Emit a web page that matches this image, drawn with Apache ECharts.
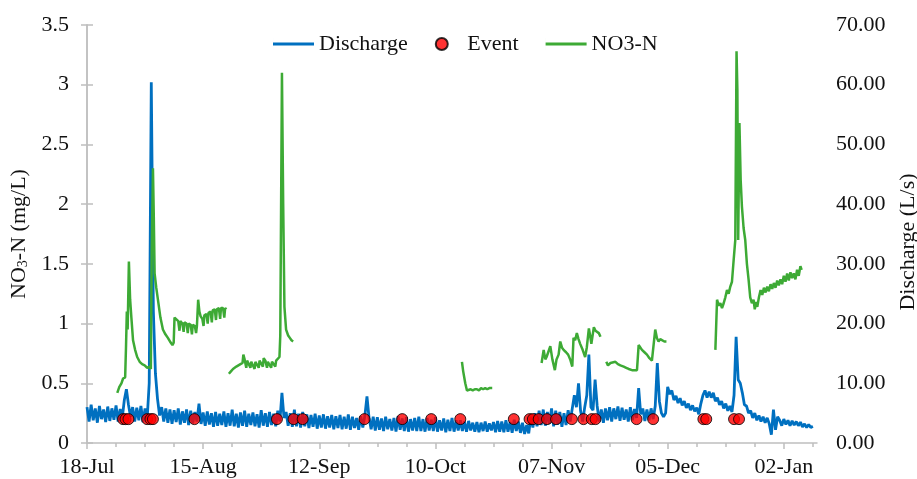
<!DOCTYPE html>
<html>
<head>
<meta charset="utf-8">
<script src="https://cdn.jsdelivr.net/npm/echarts@6/dist/echarts.min.js"></script>
<style>html,body{margin:0;padding:0;background:#fff;}#c{width:917px;height:479px;}</style>
</head>
<body>
<div id="c"></div>
<script>
// x positions are days since 18-Jul
const tickDays = [0, 28, 56, 84, 112, 140, 168];
const tickLabels = ['18-Jul', '15-Aug', '12-Sep', '10-Oct', '07-Nov', '05-Dec', '02-Jan'];
const minorTickDays = [7,14,21,35,42,49,63,70,77,91,98,105,119,126,133,147,154,161,175];

// Discharge (L/s), one reading every half day starting at 18-Jul
const dischargeStep = 0.5;
const discharge = [
  6.0,3.6,6.4,3.8,5.8,3.4,6.2,4.0,5.6,3.5,6.1,3.7,5.8,3.9,6.3,3.6,5.7,4.2,7.2,9.0,
  6.4,4.4,6.0,3.6,5.9,3.8,6.2,3.5,5.8,4.0,10.0,60.4,22.0,11.6,7.4,4.6,6.0,3.6,5.8,3.4,
  5.6,3.2,5.5,3.5,5.8,3.1,5.3,3.4,5.6,3.0,5.4,3.3,5.2,3.6,6.6,3.2,5.1,2.9,5.3,3.1,
  5.0,2.7,5.2,2.9,4.9,3.0,5.3,2.7,5.0,2.9,5.6,2.8,4.9,2.6,5.1,2.9,5.4,2.7,4.9,3.0,
  5.1,2.8,4.8,2.6,5.5,2.9,5.0,2.7,5.2,3.0,4.9,2.8,5.4,3.6,8.4,4.2,5.2,2.9,5.0,2.7,
  5.6,2.8,4.9,2.6,5.2,2.8,4.8,2.5,4.7,2.7,4.9,2.4,4.6,2.6,4.8,2.4,4.5,2.6,4.7,2.3,
  4.5,2.5,4.7,2.3,4.4,2.4,4.8,2.2,4.4,2.5,4.2,2.2,4.5,2.6,4.6,7.8,4.2,2.3,4.4,2.1,
  4.3,2.2,4.1,2.0,4.4,2.3,4.0,2.1,4.2,1.9,4.5,2.2,4.1,2.0,4.3,1.9,4.0,2.1,4.2,2.0,
  4.4,2.0,4.0,1.9,4.2,2.1,3.9,2.0,4.3,1.9,3.8,2.1,4.1,1.8,3.9,2.0,4.2,1.9,3.8,2.1,
  3.8,2.0,3.6,1.9,3.7,2.1,3.4,1.9,3.5,1.8,3.4,2.0,3.6,1.9,3.3,2.1,3.5,1.8,3.7,1.9,
  3.6,1.8,3.8,1.9,3.5,1.7,3.9,2.0,3.6,1.7,3.4,1.5,3.0,1.6,4.4,2.6,5.0,2.8,5.4,3.0,
  5.6,2.9,5.2,3.2,5.8,2.8,5.4,3.1,5.2,2.7,5.0,3.0,5.5,3.6,5.8,8.0,6.0,10.0,5.4,3.6,
  6.0,8.0,14.8,6.0,5.5,10.6,6.2,3.6,5.6,3.4,5.8,3.8,6.0,3.6,5.8,4.0,6.1,3.7,5.9,3.9,
  5.6,3.6,6.0,3.8,5.7,4.2,9.2,4.8,5.8,3.7,5.6,3.8,5.8,4.0,6.2,13.4,7.0,5.0,4.4,5.0,
  9.4,8.2,8.8,7.2,7.9,6.7,7.5,6.3,7.0,5.9,6.6,5.5,6.3,5.3,5.9,4.8,6.6,8.0,8.8,7.6,
  8.6,7.6,8.4,7.0,7.6,6.4,7.0,5.8,6.6,5.4,6.2,5.2,8.0,17.8,10.6,10.0,8.4,6.4,6.2,5.0,
  5.4,4.2,5.0,3.8,4.6,3.6,4.4,3.4,4.2,3.2,1.4,5.6,2.2,4.4,3.8,2.9,4.0,3.1,3.8,2.9,
  3.7,3.0,3.6,2.9,3.5,2.7,3.2,2.6,3.1,2.6,2.8
];

// NO3-N (mg/L): [day, value] readings, one list per logging period
const no3Seg1 = [[7.3,0.42],[7.8,0.47],[8.3,0.50],[8.7,0.54],[9.2,0.55],[9.4,0.80],[9.6,1.10],[9.8,0.95],[10.1,1.52],[10.4,1.20],[10.7,1.05],[11.1,0.86],[11.6,0.78],[12.1,0.72],[12.7,0.68],[13.3,0.66],[13.9,0.65],[14.5,0.63],[15.1,0.64],[15.4,0.62],[15.6,1.60],[15.9,2.30],[16.1,1.90],[16.3,1.42],[16.7,1.30],[17.1,1.20],[17.7,1.05],[18.3,0.95],[18.9,0.91],[19.5,0.88],[20.0,0.85],[20.6,0.82],[20.9,0.84],[21.1,1.05],[21.5,1.04],[22.0,1.02],[22.3,0.94],[22.5,1.02],[23.0,1.00],[23.3,0.93],[23.5,1.01],[24.0,1.00],[24.3,0.92],[24.5,1.00],[25.0,0.99],[25.3,0.91],[25.5,0.99],[26.0,0.98],[26.3,0.92],[26.5,0.98],[26.8,1.20],[27.1,1.10],[27.4,1.06],[27.8,1.04],[28.1,0.98],[28.3,1.07],[28.8,1.08],[29.1,1.00],[29.3,1.09],[29.8,1.10],[30.1,1.01],[30.3,1.11],[30.8,1.12],[31.1,1.03],[31.3,1.12],[31.8,1.13],[32.1,1.04],[32.3,1.13],[32.8,1.13],[33.1,1.05],[33.3,1.13],[33.6,1.12]];
const no3Seg2 = [[34.2,0.58],[34.7,0.60],[35.2,0.62],[35.6,0.61],[36.0,0.64],[36.5,0.65],[37.0,0.66],[37.5,0.67],[37.7,0.74],[38.0,0.70],[38.4,0.63],[38.6,0.69],[39.0,0.68],[39.4,0.63],[39.6,0.68],[40.0,0.68],[40.4,0.62],[40.6,0.68],[41.0,0.68],[41.4,0.63],[41.6,0.69],[42.0,0.70],[42.4,0.64],[42.6,0.71],[43.0,0.69],[43.4,0.63],[43.6,0.68],[44.0,0.68],[44.4,0.63],[44.6,0.68],[45.0,0.68],[45.4,0.64],[45.6,0.69],[46.0,0.70],[46.4,0.72],[46.6,0.90],[47.0,3.10],[47.3,2.00],[47.6,1.14],[48.0,0.95],[48.5,0.90],[48.9,0.88],[49.3,0.86],[49.7,0.85]];
const no3Seg3 = [[90.4,0.68],[90.7,0.60],[91.2,0.50],[91.6,0.44],[92.0,0.43],[92.5,0.45],[93.0,0.44],[93.5,0.45],[94.0,0.45],[94.5,0.44],[95.0,0.46],[95.5,0.45],[96.0,0.46],[96.5,0.45],[97.0,0.46],[97.7,0.46]];
const no3Seg4 = [[109.6,0.67],[110.1,0.78],[110.5,0.70],[110.8,0.72],[111.2,0.76],[111.7,0.81],[112.2,0.70],[112.8,0.61],[113.2,0.70],[113.7,0.74],[114.1,0.85],[114.5,0.80],[114.9,0.78],[115.5,0.76],[116.0,0.74],[116.5,0.70],[117.0,0.64],[117.3,0.88],[117.7,0.86],[118.1,0.92],[118.5,0.87],[118.9,0.83],[119.5,0.78],[120.1,0.72],[120.5,0.80],[121.0,0.96],[121.3,0.90],[121.6,0.83],[122.2,0.97],[122.6,0.94],[123.0,0.95],[123.4,0.92],[123.8,0.89]];
const no3Seg5 = [[125.2,0.68],[125.6,0.65],[126.2,0.67],[127.4,0.68],[128.0,0.66],[128.6,0.65],[129.4,0.64],[130.0,0.63],[130.6,0.62],[131.4,0.61],[132.0,0.61],[132.6,0.61],[133.0,0.82],[133.4,0.80],[133.8,0.78],[134.4,0.76],[135.0,0.74],[135.6,0.71],[136.2,0.69],[136.6,0.68],[137.0,0.95],[137.4,0.88],[137.8,0.85],[138.2,0.87],[138.6,0.86],[139.2,0.85],[139.7,0.85]];
const no3Seg6 = [[151.5,0.78],[151.9,1.20],[152.3,1.15],[152.7,1.17],[153.1,1.13],[153.5,1.17],[153.9,1.22],[154.3,1.28],[154.7,1.25],[155.1,1.31],[155.5,1.35],[155.9,1.53],[156.3,1.70],[156.6,3.28],[156.8,2.96],[157.0,1.70],[157.3,2.68],[157.6,2.20],[157.9,1.98],[158.3,1.80],[158.7,1.70],[159.1,1.50],[159.5,1.37],[159.9,1.22],[160.3,1.17],[160.7,1.20],[161.0,1.12],[161.3,1.18],[161.6,1.14],[162.0,1.22],[162.4,1.28],[162.8,1.24],[163.2,1.30],[163.6,1.26],[164.0,1.31],[164.4,1.27],[164.8,1.33],[165.2,1.29],[165.6,1.34],[166.0,1.30],[166.4,1.36],[166.8,1.32],[167.2,1.37],[167.6,1.33],[168.0,1.40],[168.4,1.35],[168.8,1.42],[169.2,1.36],[169.6,1.43],[170.0,1.38],[170.4,1.42],[170.8,1.37],[171.2,1.45],[171.6,1.40],[172.0,1.48],[172.3,1.45]];

// Sampling events (day), plotted at NO3-N = 0.2
const eventDays = [8.7,9.3,10.0,14.5,15.3,15.9,25.9,45.8,49.8,52.0,66.9,76.0,83.0,90.0,102.9,106.7,107.5,108.9,110.9,113.1,116.9,119.7,121.7,122.6,132.5,136.5,148.6,149.3,156.0,157.2];
const eventLevel = 0.2;

const FONT = '"Liberation Serif", "Times New Roman", serif';
const AXIS_COLOR = '#bfbfbf';
const TXT = '#111';
const LINE_ICON = 'path://M0,4.5h41v3h-41z M0,0h0.01v12h-0.01z';

const segs = [no3Seg1, no3Seg2, no3Seg3, no3Seg4, no3Seg5, no3Seg6];
const no3Data = [];
segs.forEach((s, k) => {
  s.forEach(p => no3Data.push(p));
  if (k < segs.length - 1) no3Data.push([s[s.length - 1][0] + 0.1, '-']);
});

const chart = echarts.init(document.getElementById('c'));
chart.setOption({
  animation: false,
  backgroundColor: '#fff',
  textStyle: { fontFamily: FONT },
  grid: { left: 87, right: 100, top: 25, bottom: 36, containLabel: false, outerBoundsMode: 'none' },
  legend: {
    top: 33, left: 273, padding: 0, itemGap: 27, itemWidth: 41, itemHeight: 12,
    textStyle: { fontFamily: FONT, fontSize: 22, color: TXT },
    data: [
      { name: 'Discharge', icon: LINE_ICON, itemStyle: { color: '#0070C0' } },
      { name: 'Event', icon: 'circle' },
      { name: 'NO3-N', icon: LINE_ICON, itemStyle: { color: '#3DAA35' } }
    ]
  },
  xAxis: [{
    type: 'value', min: 0, max: 176, position: 'bottom',
    splitLine: { show: false },
    axisLine: { lineStyle: { color: AXIS_COLOR, width: 1.5 } },
    axisTick: { show: true, customValues: tickDays, length: 6, lineStyle: { color: AXIS_COLOR, width: 1.5 } },
    axisLabel: {
      customValues: tickDays, margin: 13, color: TXT, fontFamily: FONT, fontSize: 22,
      formatter: v => { const i = tickDays.indexOf(v); return i >= 0 ? tickLabels[i] : ''; }
    }
  }, {
    type: 'value', min: 0, max: 176, position: 'bottom',
    splitLine: { show: false },
    axisLine: { show: false },
    axisTick: { show: true, customValues: minorTickDays, length: 4, lineStyle: { color: AXIS_COLOR, width: 1.5 } },
    axisLabel: { show: false }
  }],
  yAxis: [{
    type: 'value', min: 0, max: 3.5, interval: 0.5, position: 'left',
    name: 'NO{sub|3}-N (mg/L)', nameLocation: 'middle', nameRotate: 90, nameGap: 52,
    nameTextStyle: {
      fontFamily: FONT, fontSize: 22, color: TXT,
      rich: { sub: { fontFamily: FONT, fontSize: 14, color: TXT, padding: [0, 0, -8, 0] } }
    },
    splitLine: { show: false },
    axisLine: { show: true, lineStyle: { color: AXIS_COLOR, width: 1.5 } },
    axisTick: { show: true, length: 6, lineStyle: { color: AXIS_COLOR, width: 1.5 } },
    axisLabel: { margin: 18, color: TXT, fontFamily: FONT, fontSize: 22 }
  }, {
    type: 'value', min: 0, max: 70, interval: 10, position: 'right',
    name: 'Discharge (L/s)', nameLocation: 'middle', nameRotate: 90, nameGap: 80,
    nameTextStyle: { fontFamily: FONT, fontSize: 22, color: TXT, padding: [0, 16, 0, 0] },
    splitLine: { show: false },
    axisLine: { show: true, lineStyle: { color: AXIS_COLOR, width: 1.5 } },
    axisTick: { show: true, length: 6, lineStyle: { color: AXIS_COLOR, width: 1.5 } },
    axisLabel: { margin: 19, color: TXT, fontFamily: FONT, fontSize: 22, formatter: v => v.toFixed(2) }
  }],
  series: [{
    name: 'Discharge', type: 'line', xAxisIndex: 0, yAxisIndex: 1,
    symbol: 'none', color: '#0070C0',
    lineStyle: { color: '#0070C0', width: 2.8 },
    data: discharge.map((v, i) => [i * dischargeStep, v]),
    z: 2
  }, {
    name: 'Event', type: 'scatter', xAxisIndex: 0, yAxisIndex: 0,
    symbol: 'circle', symbolSize: 11, color: '#FF0000',
    itemStyle: { color: '#FF0000', borderColor: '#000', borderWidth: 1 },
    data: eventDays.map(d => [d, eventLevel]),
    z: 4
  }, {
    name: 'NO3-N', type: 'line', xAxisIndex: 0, yAxisIndex: 0,
    symbol: 'none', color: '#3DAA35', connectNulls: false,
    lineStyle: { color: '#3DAA35', width: 2.5 },
    data: no3Data,
    z: 3
  }]
});
</script>
</body>
</html>
